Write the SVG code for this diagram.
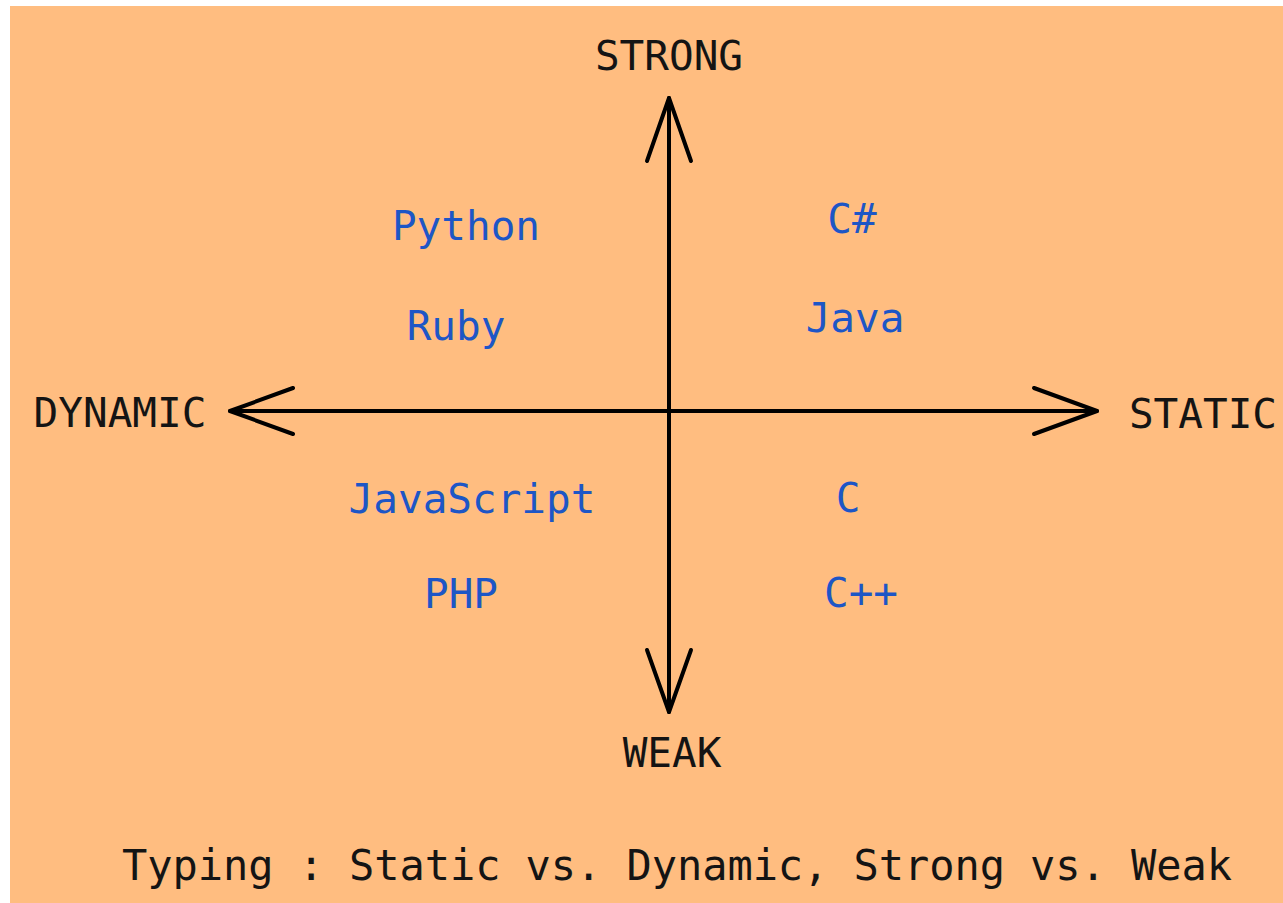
<svg xmlns="http://www.w3.org/2000/svg" width="1283" height="903" viewBox="0 0 1283 903">
  <style>
    .lbl { font-family: "DejaVu Sans Mono", "Liberation Mono", monospace; font-size: 41px; text-anchor: middle; }
    .axis { fill: #141414; }
    .lang { fill: #1d56c6; }
    .title { font-family: "DejaVu Sans Mono", "Liberation Mono", monospace; font-size: 42px; fill: #141414; }
    .line { stroke: #000; stroke-width: 4; fill: none; stroke-linecap: round; stroke-linejoin: round; }
  </style>
  <rect x="0" y="0" width="1283" height="903" fill="#ffffff"/>
  <rect x="10" y="6" width="1273" height="897" fill="#ffbd80"/>

  <!-- axes with open arrowheads -->
  <g id="connectors">
    <path class="line" d="M669 98 V712"/>
    <path class="line" d="M230 411 H1097"/>
    <path class="line" d="M647 161 L669 98 L691 161"/>
    <path class="line" d="M647 650 L669 712 L691 650"/>
    <path class="line" d="M293 388 L230 411 L293 434"/>
    <path class="line" d="M1034 388 L1097 411 L1034 434"/>
  </g>

  <!-- axis end labels -->
  <g id="strong"><text class="lbl axis" x="669" y="70">STRONG</text></g>
  <g id="weak"><text class="lbl axis" x="672" y="767">WEAK</text></g>
  <g id="dynamic"><text class="lbl axis" x="120" y="427">DYNAMIC</text></g>
  <g id="static"><text class="lbl axis" x="1203" y="428">STATIC</text></g>

  <!-- languages per quadrant -->
  <g id="python"><text class="lbl lang" x="466" y="240">Python</text></g>
  <g id="ruby"><text class="lbl lang" x="456" y="340">Ruby</text></g>
  <g id="csharp"><text class="lbl lang" x="852" y="233">C#</text></g>
  <g id="java"><text class="lbl lang" x="855" y="332">Java</text></g>
  <g id="javascript"><text class="lbl lang" x="472" y="513">JavaScript</text></g>
  <g id="php"><text class="lbl lang" x="461" y="608">PHP</text></g>
  <g id="c"><text class="lbl lang" x="848" y="512">C</text></g>
  <g id="cpp"><text class="lbl lang" x="861" y="607">C++</text></g>

  <g id="caption"><text class="title" x="122" y="880" textLength="1110" lengthAdjust="spacing">Typing : Static vs. Dynamic, Strong vs. Weak</text></g>
</svg>
